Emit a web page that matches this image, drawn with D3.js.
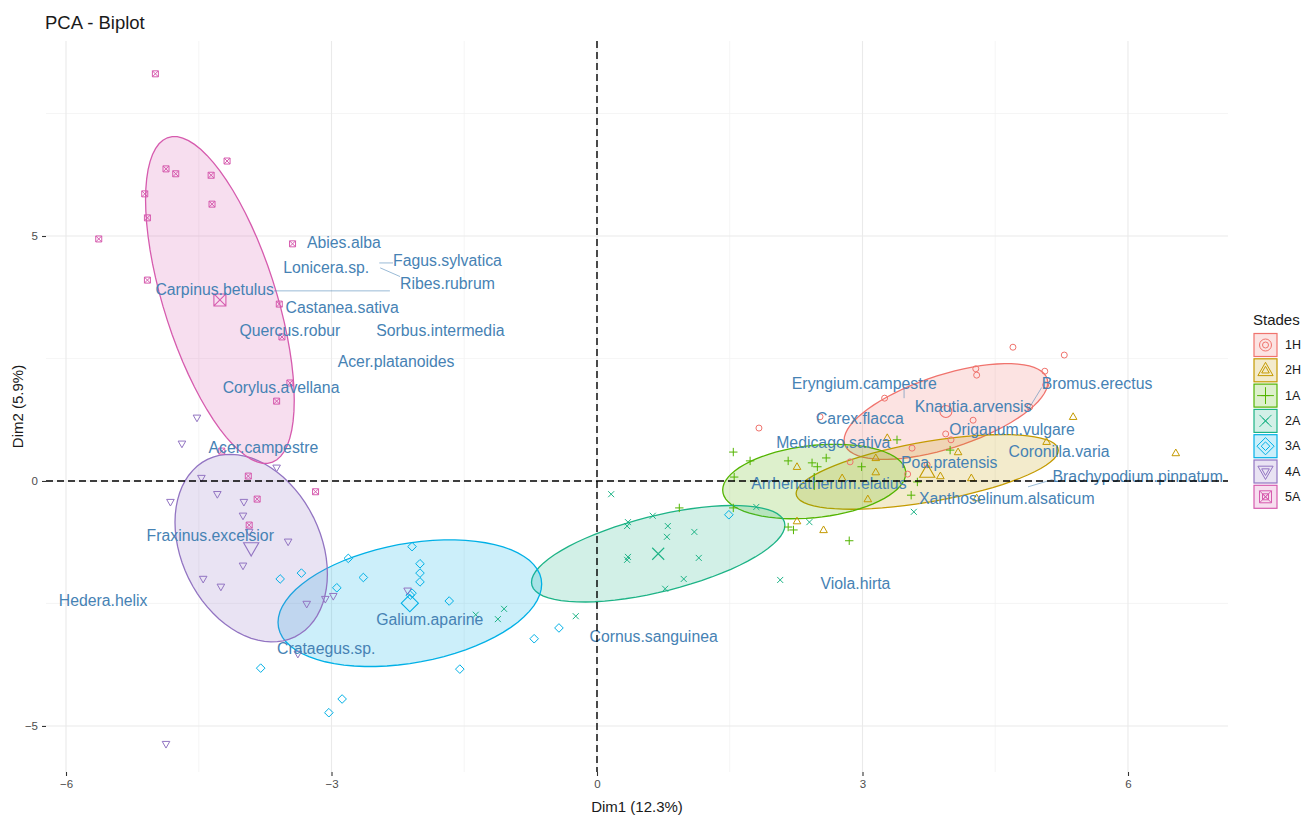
<!DOCTYPE html>
<html><head><meta charset="utf-8">
<script src="https://cdn.jsdelivr.net/npm/d3@7"></script>
<style>
body{margin:0;background:#fff;}
svg{display:block;font-family:"Liberation Sans",Arial,Helvetica,sans-serif;}
</style>
</head><body>
<svg id="chart" width="1306" height="815"></svg>
<script>
// ---------------- DATA ----------------
const stades = ["1H","2H","1A","2A","3A","4A","5A"];
const stadeColors = ["#F0736D","#C49A00","#53B400","#1DB386","#00B0E6","#9274C2","#D65BAE"];
const stadeShapes = ["circle","triangle","plus","cross","diamond","triangleDown","squareCross"];

const ind1H = [[1.83,1.08],[2.52,1.31],[3.25,1.69],[4.28,2.29],[4.29,2.16],[4.70,2.73],[5.28,2.57],[5.06,2.24],
  [4.25,1.24],[3.94,0.96],[4.00,0.84],[3.56,0.67],[2.86,0.39],[3.51,0.14],[3.73,0.33],[5.07,1.96],[4.89,1.51]];
const ind2H = [[2.26,0.29],[3.15,0.47],[3.15,0.18],[3.28,0.88],[2.77,0.06],[3.06,-0.37],[3.88,0.10],[4.23,0.06],
  [4.08,0.59],[5.08,0.80],[5.38,1.31],[2.26,-0.82],[2.56,-1.00],[6.54,0.57],[4.29,-0.35]];
const ind1A = [[1.54,0.59],[1.73,0.41],[1.55,0.08],[2.16,0.41],[2.43,0.37],[2.49,0.29],[2.59,0.47],[2.99,0.29],
  [3.39,0.84],[3.62,-0.02],[3.55,-0.29],[3.99,0.63],[2.16,-0.94],[2.22,-1.00],[2.85,-1.22],[0.93,-0.55],[1.54,-0.55]];
const ind2A = [[0.16,-0.27],[0.35,-0.84],[0.34,-0.92],[0.63,-0.71],[0.80,-0.92],[0.79,-1.14],[1.10,-1.04],[0.35,-1.55],
  [0.34,-1.61],[1.15,-1.57],[0.98,-2.00],[0.77,-2.20],[1.80,-0.53],[2.07,-2.02],[-0.24,-2.76],[-1.05,-2.61],
  [-1.12,-2.82],[-1.37,-2.73],[2.40,-0.84],[3.58,-0.63]];
const ind3A = [[-2.09,-1.34],[-2.81,-1.58],[-2.00,-1.69],[-2.00,-1.88],[-2.00,-2.06],[-2.64,-1.97],[-3.34,-1.88],
  [-3.58,-2.00],[-2.94,-2.18],[-2.09,-2.29],[-2.11,-2.33],[-1.67,-2.45],[-0.71,-3.22],[-0.43,-3.00],[-1.55,-3.84],
  [-3.80,-3.82],[-2.88,-4.45],[-3.03,-4.73],[1.49,-0.69]];
const ind4A = [[-4.52,1.29],[-4.69,0.76],[-3.62,0.27],[-4.47,0.06],[-4.29,-0.27],[-4.82,-0.43],[-3.99,-0.43],
  [-4.00,-0.71],[-3.93,-1.04],[-3.49,-1.24],[-4.00,-1.73],[-4.45,-2.00],[-4.25,-2.16],[-3.28,-2.51],[-3.07,-2.41],
  [-2.98,-2.35],[-2.14,-2.24],[-3.38,-3.53],[-4.87,-5.37]];
const ind5A = [[-4.99,8.31],[-4.87,6.37],[-4.76,6.27],[-4.18,6.53],[-4.36,6.24],[-5.11,5.86],[-4.35,5.65],
  [-5.08,5.37],[-5.63,4.94],[-3.44,4.84],[-5.08,4.10],[-3.59,3.61],[-3.56,2.94],[-3.47,2.00],[-3.62,1.63],
  [-3.94,0.10],[-3.84,-0.37],[-3.18,-0.22],[-3.93,-0.90],[-4.24,0.61]];
const stadeData = [ind1H, ind2H, ind1A, ind2A, ind3A, ind4A, ind5A];

// Variable labels (repelled label positions, data units) and, where a leader line is drawn, the variable point
const varNames = ["Abies.alba","Lonicera.sp.","Fagus.sylvatica","Ribes.rubrum","Carpinus.betulus","Castanea.sativa",
  "Quercus.robur","Sorbus.intermedia","Acer.platanoides","Corylus.avellana","Acer.campestre","Fraxinus.excelsior",
  "Hedera.helix","Galium.aparine","Crataegus.sp.","Cornus.sanguinea","Viola.hirta","Eryngium.campestre",
  "Carex.flacca","Medicago.sativa","Arrhenatherum.elatius","Poa.pratensis","Knautia.arvensis","Origanum.vulgare",
  "Bromus.erectus","Coronilla.varia","Brachypodium.pinnatum","Xanthoselinum.alsaticum"];
const varLabelX = [-2.86,-3.06,-1.69,-1.69,-4.32,-2.88,-3.47,-1.77,-2.27,-3.57,-3.77,-4.37,-5.58,-1.89,-3.06,0.64,
  2.92,3.02,2.97,2.67,2.62,3.98,4.25,4.69,5.65,5.22,6.11,4.63];
const varLabelY = [4.86,4.35,4.49,4.04,3.90,3.55,3.08,3.08,2.43,1.90,0.69,-1.12,-2.43,-2.82,-3.41,-3.18,-2.10,1.98,
  1.27,0.78,-0.06,0.37,1.51,1.06,1.98,0.61,0.10,-0.35];
const varPointX = [null,null,-2.46,-2.45,-2.34,null,null,null,null,null,null,null,null,null,null,null,null,3.47,
  null,null,null,null,null,null,4.87,null,4.87,null];
const varPointY = [null,null,4.45,4.35,3.88,null,null,null,null,null,null,null,null,null,null,null,null,1.69,
  null,null,null,null,null,null,1.45,null,-0.12,null];

const xTicks = [-6,-3,0,3,6];
const yTicks = [-5,0,5];
const xMinor = [-4.5,-1.5,1.5,4.5];
const yMinor = [-2.5,2.5,7.5];
const xDomain = [-6.226, 7.13];
const yDomain = [-5.94, 8.98];
const ellipseLevel = 0.5;

// ---------------- LAYOUT ----------------
const panel = {left:46, right:1228, top:41, bottom:772};
const svg = d3.select("#chart");
const x = d3.scaleLinear().domain(xDomain).range([panel.left, panel.right]);
const y = d3.scaleLinear().domain(yDomain).range([panel.bottom, panel.top]);

// grid
const grid = svg.append("g");
grid.selectAll(".vminor").data(xMinor).join("line")
  .attr("x1", d=>x(d)).attr("x2", d=>x(d)).attr("y1", panel.top).attr("y2", panel.bottom)
  .attr("stroke","#F0F0F0").attr("stroke-width",0.7);
grid.selectAll(".hminor").data(yMinor).join("line")
  .attr("y1", d=>y(d)).attr("y2", d=>y(d)).attr("x1", panel.left).attr("x2", panel.right)
  .attr("stroke","#F0F0F0").attr("stroke-width",0.7);
grid.selectAll(".vmajor").data(xTicks).join("line")
  .attr("x1", d=>x(d)).attr("x2", d=>x(d)).attr("y1", panel.top).attr("y2", panel.bottom)
  .attr("stroke","#EAEAEA").attr("stroke-width",1.1);
grid.selectAll(".hmajor").data(yTicks).join("line")
  .attr("y1", d=>y(d)).attr("y2", d=>y(d)).attr("x1", panel.left).attr("x2", panel.right)
  .attr("stroke","#EAEAEA").attr("stroke-width",1.1);

// axes
const xAxis = svg.append("g").attr("transform",`translate(0,${panel.bottom})`)
  .call(d3.axisBottom(x).tickValues(xTicks).tickSize(4).tickPadding(4).tickFormat(d3.format("d")));
const yAxis = svg.append("g").attr("transform",`translate(${panel.left},0)`)
  .call(d3.axisLeft(y).tickValues(yTicks).tickSize(4).tickPadding(4).tickFormat(d3.format("d")));
[xAxis,yAxis].forEach(a=>{
  a.select(".domain").remove();
  a.selectAll(".tick line").attr("stroke","#333").attr("stroke-width",1.1);
  a.selectAll(".tick text").attr("fill","#4D4D4D").attr("font-size","11.5px")
   .attr("font-family","'Liberation Sans',Arial,sans-serif");
});

// ellipse computation (normal-theory ellipse, like stat_ellipse type="norm")
function qf2(p, d){ return d/2*(Math.pow(1-p, -2/d)-1); }
function ellipsePoints(pts, level){
  const n = pts.length;
  const mx = d3.mean(pts, p=>p[0]), my = d3.mean(pts, p=>p[1]);
  let sxx=0, syy=0, sxy=0;
  pts.forEach(p=>{ sxx+=(p[0]-mx)**2; syy+=(p[1]-my)**2; sxy+=(p[0]-mx)*(p[1]-my); });
  sxx/=(n-1); syy/=(n-1); sxy/=(n-1);
  const a = Math.sqrt(sxx), b = sxy/a, c = Math.sqrt(Math.max(syy-b*b,0));
  const r = Math.sqrt(2*qf2(level, n-1));
  const out = [];
  for(let i=0;i<=72;i++){
    const t = 2*Math.PI*i/72, ct=Math.cos(t), st=Math.sin(t);
    out.push([mx + r*ct*a, my + r*(ct*b + st*c)]);
  }
  return out;
}

// marker shapes
function markerPath(shape, k){
  const p = d3.path();
  if(shape==="circle"){ const r=3*k; p.moveTo(r,0); p.arc(0,0,r,0,2*Math.PI); }
  else if(shape==="triangle"){ const h=3.8*k; p.moveTo(0,-h*1.05); p.lineTo(h,h*0.7); p.lineTo(-h,h*0.7); p.closePath(); }
  else if(shape==="triangleDown"){ const h=3.8*k; p.moveTo(0,h*1.05); p.lineTo(h,-h*0.7); p.lineTo(-h,-h*0.7); p.closePath(); }
  else if(shape==="plus"){ const r=4.2*k; p.moveTo(-r,0); p.lineTo(r,0); p.moveTo(0,-r); p.lineTo(0,r); }
  else if(shape==="cross"){ const r=3*k; p.moveTo(-r,-r); p.lineTo(r,r); p.moveTo(-r,r); p.lineTo(r,-r); }
  else if(shape==="diamond"){ const r=4.3*k; p.moveTo(0,-r); p.lineTo(r,0); p.lineTo(0,r); p.lineTo(-r,0); p.closePath(); }
  else if(shape==="squareCross"){ const r=3*k; p.rect(-r,-r,2*r,2*r); p.moveTo(-r,-r); p.lineTo(r,r); p.moveTo(-r,r); p.lineTo(r,-r); }
  return p.toString();
}

const plot = svg.append("g");
// ellipses
stades.forEach((s,i)=>{
  const e = ellipsePoints(stadeData[i], ellipseLevel);
  plot.append("path")
    .attr("d", d3.line().x(d=>x(d[0])).y(d=>y(d[1]))(e) + "Z")
    .attr("fill", stadeColors[i]).attr("fill-opacity",0.2)
    .attr("stroke", stadeColors[i]).attr("stroke-width",1.3);
});
// points and means
stades.forEach((s,i)=>{
  const g = plot.append("g");
  g.selectAll("path").data(stadeData[i]).join("path")
    .attr("d", markerPath(stadeShapes[i],1))
    .attr("transform", d=>`translate(${x(d[0])},${y(d[1])})`)
    .attr("fill","none").attr("stroke",stadeColors[i]).attr("stroke-width",1);
  const mx = d3.mean(stadeData[i], p=>p[0]), my = d3.mean(stadeData[i], p=>p[1]);
  g.append("path").attr("d", markerPath(stadeShapes[i],2))
    .attr("transform",`translate(${x(mx)},${y(my)})`)
    .attr("fill","none").attr("stroke",stadeColors[i]).attr("stroke-width",1.1);
});

// variable labels with leader segments
const labG = svg.append("g");
const segG = labG.append("g");
varNames.forEach((nm,i)=>{
  const t = labG.append("text").attr("x", x(varLabelX[i])).attr("y", y(varLabelY[i]))
    .attr("text-anchor","middle").attr("dominant-baseline","central")
    .attr("font-size","15.8px").attr("fill","#4682B4").text(nm);
  if(varPointX[i]!==null){
    const bb = t.node().getBBox();
    const px = x(varPointX[i]), py = y(varPointY[i]);
    const cx = Math.max(bb.x, Math.min(px, bb.x+bb.width));
    const cy = Math.max(bb.y+2, Math.min(py, bb.y+bb.height-5));
    segG.append("line").attr("x1",px).attr("y1",py).attr("x2",cx).attr("y2",cy)
      .attr("stroke","#4682B4").attr("stroke-opacity",0.55).attr("stroke-width",1);
  }
});

// reference dashed lines
svg.append("line").attr("x1",panel.left).attr("x2",panel.right).attr("y1",y(0)).attr("y2",y(0))
  .attr("stroke","#000").attr("stroke-width",1.4).attr("stroke-dasharray","7,4");
svg.append("line").attr("x1",x(0)).attr("x2",x(0)).attr("y1",panel.top).attr("y2",panel.bottom)
  .attr("stroke","#000").attr("stroke-width",1.4).attr("stroke-dasharray","7,4");

// titles
svg.append("text").attr("x",45).attr("y",22).attr("dominant-baseline","central")
  .attr("font-size","18.5px").attr("fill","#1A1A1A").text("PCA - Biplot");
svg.append("text").attr("x",(panel.left+panel.right)/2).attr("y",806).attr("text-anchor","middle")
  .attr("dominant-baseline","central").attr("font-size","15px").attr("fill","#1A1A1A").text("Dim1 (12.3%)");
svg.append("text").attr("transform",`translate(17,${(panel.top+panel.bottom)/2}) rotate(-90)`)
  .attr("text-anchor","middle").attr("dominant-baseline","central")
  .attr("font-size","15px").attr("fill","#1A1A1A").text("Dim2 (5.9%)");

// legend
const leg = svg.append("g").attr("transform","translate(1253,0)");
leg.append("text").attr("x",0).attr("y",319).attr("dominant-baseline","central")
  .attr("font-size","15px").attr("fill","#1A1A1A").text("Stades");
stades.forEach((s,i)=>{
  const cy = 345 + i*25.3;
  leg.append("rect").attr("x",1).attr("y",cy-11.5).attr("width",23).attr("height",23)
    .attr("fill",stadeColors[i]).attr("fill-opacity",0.2).attr("stroke",stadeColors[i]).attr("stroke-width",1.2);
  [1,2].forEach(k=> leg.append("path").attr("d",markerPath(stadeShapes[i],k))
    .attr("transform",`translate(12.5,${cy})`).attr("fill","none").attr("stroke",stadeColors[i]).attr("stroke-width",1));
  leg.append("text").attr("x",32).attr("y",cy).attr("dominant-baseline","central")
    .attr("font-size","12.5px").attr("fill","#1A1A1A").text(s);
});
</script>
</body></html>
